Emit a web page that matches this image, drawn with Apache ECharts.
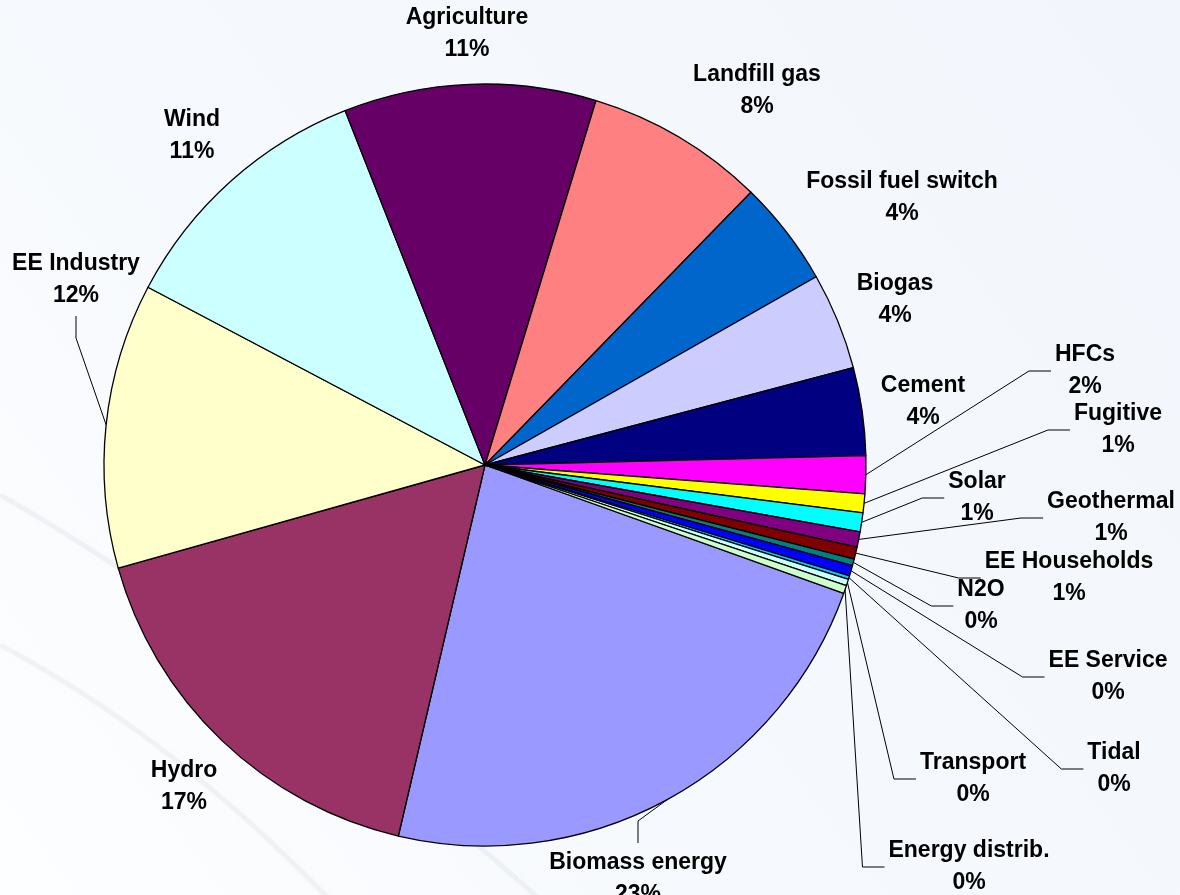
<!DOCTYPE html>
<html>
<head>
<meta charset="utf-8">
<script src="https://cdn.jsdelivr.net/npm/echarts@6/dist/echarts.min.js"></script>
<style>
html,body{margin:0;padding:0;background:#f5f8fc;}
#chart{width:1180px;height:895px;}
</style>
</head>
<body>
<div id="chart"></div>
<script>
// ---- data (percent shares) ----
const categories = [
  'Biomass energy', 'Hydro', 'EE Industry', 'Wind', 'Agriculture',
  'Landfill gas', 'Fossil fuel switch', 'Biogas', 'Cement', 'HFCs',
  'Fugitive', 'Solar', 'Geothermal', 'EE Households', 'N2O',
  'EE Service', 'Tidal', 'Transport', 'Energy distrib.'
];
const shares = [
  23.2, 17.0, 12.1, 11.3, 10.7,
  7.6, 4.48, 4.12, 3.72, 1.6,
  0.8, 0.8, 0.65, 0.52, 0.28,
  0.45, 0.15, 0.27, 0.35
];

// ---- styles ----
const sliceColors = [
  '#9999FF', '#993366', '#FFFFCC', '#CCFFFF', '#660066',
  '#FF8080', '#0066CC', '#CCCCFF', '#000080', '#FF00FF',
  '#FFFF00', '#00FFFF', '#800080', '#800000', '#008080',
  '#0000FF', '#00CCFF', '#CCFFFF', '#CCFFCC'
];

// label placement (layout only): centre of the two-line label block and leader style
const labelPlacement = {
  'Biomass energy':     { x: 638,  y: 879, leader: 'top' },
  'Hydro':              { x: 184,  y: 787 },
  'EE Industry':        { x: 76,   y: 280, leader: 'bottom' },
  'Wind':               { x: 192,  y: 136 },
  'Agriculture':        { x: 467,  y: 34 },
  'Landfill gas':       { x: 757,  y: 91 },
  'Fossil fuel switch': { x: 902,  y: 198 },
  'Biogas':             { x: 895,  y: 300 },
  'Cement':             { x: 923,  y: 402 },
  'HFCs':               { x: 1085, y: 371, leader: 'left' },
  'Fugitive':           { x: 1118, y: 430, leader: 'left' },
  'Solar':              { x: 977,  y: 498, leader: 'left' },
  'Geothermal':         { x: 1111, y: 518, leader: 'left' },
  'EE Households':      { x: 1069, y: 578, leader: 'left' },
  'N2O':                { x: 981,  y: 606, leader: 'left' },
  'EE Service':         { x: 1108, y: 677, leader: 'left' },
  'Tidal':              { x: 1114, y: 769, leader: 'left' },
  'Transport':          { x: 973,  y: 779, leader: 'left' },
  'Energy distrib.':    { x: 969,  y: 867, leader: 'left' }
};

const chart = echarts.init(document.getElementById('chart'), null, { renderer: 'canvas' });

const pieData = categories.map(function (name, i) {
  return {
    name: name,
    value: shares[i],
    itemStyle: { color: sliceColors[i] },
    labelLine: { show: !!labelPlacement[name].leader }
  };
});

const option = {
  animation: false,
  backgroundColor: {
    type: 'linear', x: 1, y: 0, x2: 0, y2: 1,
    colorStops: [
      { offset: 0, color: '#F2F5FB' },
      { offset: 0.6, color: '#F6F9FD' },
      { offset: 1, color: '#FDFEFF' }
    ]
  },
  graphic: [
    {
      type: 'bezierCurve', silent: true, z: -10,
      shape: { x1: 0, y1: 495, cpx1: 240, cpy1: 630, x2: 580, y2: 935 },
      style: { stroke: 'rgba(185,190,200,0.16)', lineWidth: 5, fill: null, shadowBlur: 8, shadowColor: 'rgba(185,190,200,0.2)' }
    },
    {
      type: 'bezierCurve', silent: true, z: -10,
      shape: { x1: 0, y1: 645, cpx1: 170, cpy1: 735, x2: 330, y2: 900 },
      style: { stroke: 'rgba(185,190,200,0.14)', lineWidth: 5, fill: null, shadowBlur: 8, shadowColor: 'rgba(185,190,200,0.2)' }
    }
  ],
  series: [{
    type: 'pie',
    center: [485, 465],
    radius: 381,
    startAngle: 340.3,
    clockwise: true,
    avoidLabelOverlap: false,
    percentPrecision: 0,
    data: pieData,
    itemStyle: { borderColor: '#000000', borderWidth: 1.3 },
    emphasis: { disabled: true },
    label: {
      show: true,
      position: 'outside',
      alignTo: 'none',
      formatter: '{b}\n{d}%',
      color: '#000000',
      fontFamily: '"Liberation Sans", Arial, sans-serif',
      fontWeight: 'bold',
      fontSize: 23,
      lineHeight: 32,
      overflow: 'none'
    },
    labelLine: {
      show: false,
      length: 6,
      length2: 6,
      smooth: false,
      lineStyle: { color: '#000000', width: 1 }
    },
    labelLayout: function (p) {
      const name = categories[p.dataIndex];
      const pl = labelPlacement[name];
      const out = { x: pl.x, y: pl.y, align: 'center', verticalAlign: 'middle' };
      const pts = p.labelLinePoints;
      if (pl.leader && pts && pts.length) {
        const rim = pts[0];
        const w = p.labelRect.width;
        const h = p.labelRect.height;
        let end, elbow;
        if (pl.leader === 'left') {
          end = [pl.x - w / 2 - 4, pl.y];
          elbow = [end[0] - 22, pl.y];
        } else if (pl.leader === 'bottom') {
          end = [pl.x, pl.y + h / 2 + 4];
          elbow = [pl.x, end[1] + 22];
        } else {
          end = [pl.x, pl.y - h / 2 - 4];
          elbow = [pl.x, end[1] - 22];
        }
        out.labelLinePoints = [rim, elbow, end];
      }
      return out;
    }
  }]
};

chart.setOption(option);
</script>
</body>
</html>
